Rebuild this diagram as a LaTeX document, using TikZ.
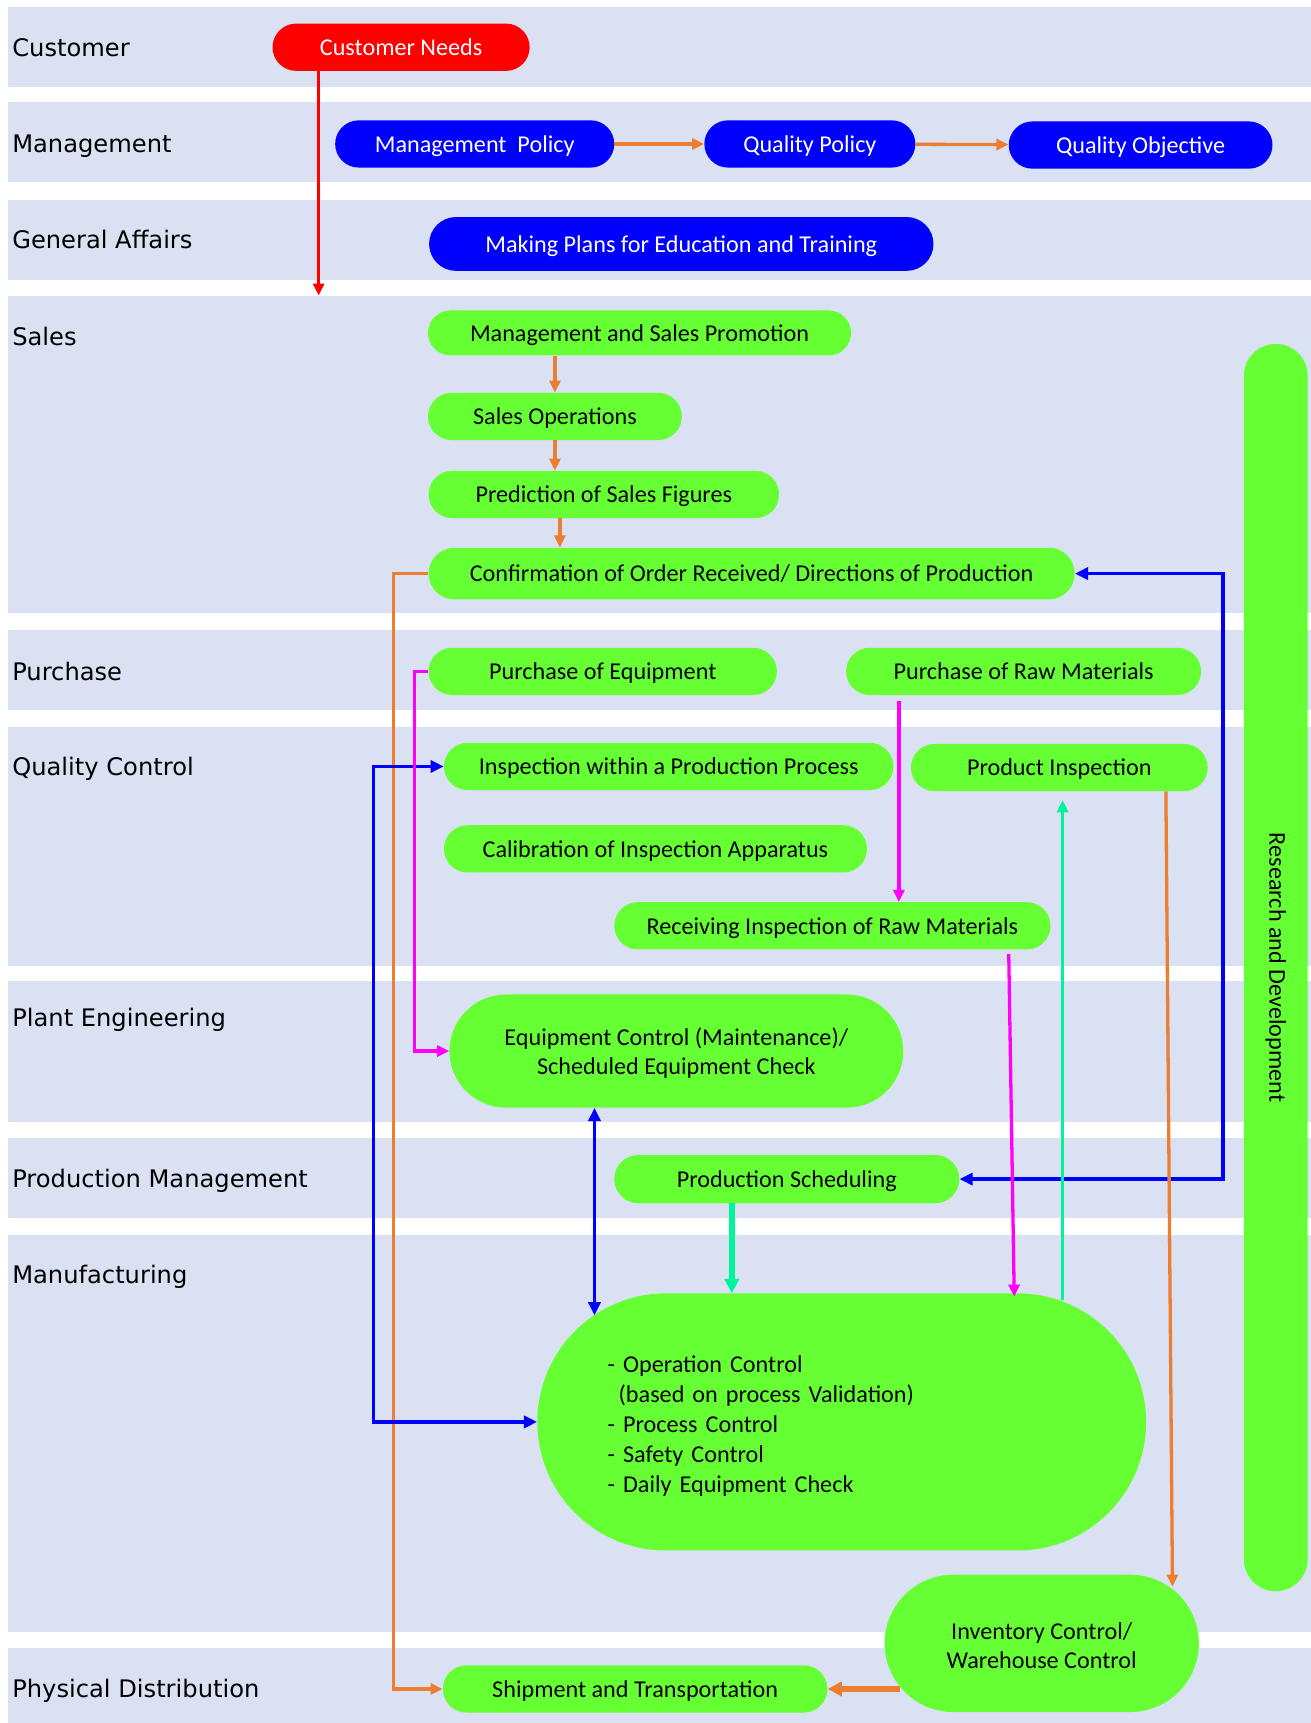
\documentclass[tikz,border=0pt]{standalone}
\usepackage{fontspec}
\setmainfont{Carlito}
\newfontfamily\lanefont{DejaVu Sans}
\usetikzlibrary{arrows.meta,calc}
\definecolor{lanebg}{HTML}{DAE1F2}
\definecolor{boxgreen}{HTML}{66FF33}
\definecolor{flowblue}{HTML}{0000FF}
\definecolor{flowred}{HTML}{FF0000}
\definecolor{floworange}{HTML}{ED7D31}
\definecolor{flowpink}{HTML}{FF00FF}
\definecolor{flowmint}{HTML}{00F59B}
\tikzset{
	lanename/.style={anchor=west, inner sep=0pt, text height=16pt, text depth=0pt, font=\lanefont\fontsize{22}{26}\selectfont},
	box/.style={rectangle, inner sep=0pt, fill=boxgreen, text=black, font=\fontsize{22}{26}\selectfont},
	pill/.style={box, rounded corners=21.5pt, minimum height=43pt, text height=15pt, text depth=0pt},
	bigpill/.style={box, align=center, text depth=0pt},
	redpill/.style={pill, fill=flowred, text=white},
	bluepill/.style={pill, fill=flowblue, text=white},
	flow/.style={line width=3pt, -{Triangle[length=11pt,width=10pt]}},
	twoway/.style={line width=3pt, {Triangle[length=12pt,width=11pt]}-{Triangle[length=12pt,width=11pt]}}
}
\begin{document}
\begin{tikzpicture}[x=1pt, y=-1pt]
	\useasboundingbox (0,0) rectangle (1193,1568);
	% Lanes
	\foreach \top/\bot in {6/79, 93/166, 182/255, 269/558, 573/646, 662/879, 893/1021, 1036/1108, 1124/1485, 1500/1568}
		\fill[lanebg] (7,\top) rectangle (1193,\bot);
	\node[lanename] (lcust) at (11,43) {Customer};
	\node[lanename] (lmgmt) at (11,131) {Management};
	\node[lanename] (lgen) at (11,218) {General Affairs};
	\node[lanename] (lsales) at (11,306) {Sales};
	\node[lanename] (lpur) at (11,611) {Purchase};
	\node[lanename] (lqc) at (11,698) {Quality Control};
	\node[lanename] (lplant) at (11,926) {Plant Engineering};
	\node[lanename] (lprod) at (11,1073) {Production Management};
	\node[lanename] (lmanu) at (11,1160) {Manufacturing};
	\node[lanename] (ldist) at (11,1537) {Physical Distribution};
	% Boxes
	\node[redpill, minimum width=234pt] (need) at (365,43) {Customer Needs};
	\node[bluepill, minimum width=254pt] (mpol) at (432,131) {Management\ \ Policy};
	\node[bluepill, minimum width=192pt] (qpol) at (737,131) {Quality Policy};
	\node[bluepill, minimum width=240pt] (qobj) at (1038,132) {Quality Objective};
	\node[bluepill, minimum width=459pt, minimum height=49pt, rounded corners=24.5pt] (edu) at (620,222) {Making Plans for Education and Training};
	\node[pill, minimum width=385pt, minimum height=41pt, rounded corners=20.5pt] (msp) at (582,303) {Management and Sales Promotion};
	\node[pill, minimum width=231pt] (sop) at (505,379) {Sales Operations};
	\node[pill, minimum width=319pt] (pred) at (549.5,450) {Prediction of Sales Figures};
	\node[pill, minimum width=588pt, minimum height=47pt, rounded corners=23.5pt] (conf) at (684,522) {Confirmation of Order Received/ Directions of Production};
	\node[pill, minimum width=317pt] (peq) at (548.5,611) {Purchase of Equipment};
	\node[pill, minimum width=323pt] (praw) at (931.5,611) {Purchase of Raw Materials};
	\node[pill, minimum width=409pt] (ipp) at (608.5,697.5) {Inspection within a Production Process};
	\node[pill, minimum width=270pt] (pins) at (964,698.5) {Product Inspection};
	\node[pill, minimum width=385pt] (cal) at (596.5,772.5) {Calibration of Inspection Apparatus};
	\node[pill, minimum width=397pt] (rirm) at (757.5,842.5) {Receiving Inspection of Raw Materials};
	\node[bigpill, minimum width=413pt, minimum height=103pt, rounded corners=51.5pt] (eqc) at (615.5,956.5) {Equipment Control (Maintenance)/\\Scheduled Equipment Check};
	\node[pill, minimum width=314pt, minimum height=44pt, rounded corners=22pt] (sched) at (716,1073) {Production Scheduling};
	\node[box, minimum width=554pt, minimum height=234pt, rounded corners=117pt, text width=426pt, text height=23pt, align=left, font=\fontsize{22}{27.3}\selectfont] (ops) at (766,1294)
		{- Operation Control\\\hspace*{10pt}(based on process Validation)\\- Process Control\\- Safety Control\\- Daily Equipment Check};
	\node[bigpill, minimum width=286pt, minimum height=125pt, rounded corners=62.5pt, yshift=0pt] (inv) at (948,1495.5) {\rule{0pt}{19pt}Inventory Control/\\Warehouse Control};
	\node[pill, minimum width=350pt] (ship) at (578,1537) {Shipment and Transportation};
	\node[box, minimum width=58pt, minimum height=1135pt, rounded corners=29pt] (rnd) at (1161,880.5) {};
	\node[rotate=-90, font=\fontsize{22}{26}\selectfont] (rndtext) at (rnd.center) {Research and Development};
	% Free ends
	\coordinate (salestop) at (290,269);
	\coordinate (oleft) at (358,1537);
	\coordinate (bright) at (1113,522);
	\coordinate (bleft) at (340,697.5);
	\coordinate (bmid) at (541,1197);
	\coordinate (pleft) at (377,611);
	\coordinate (pdown) at (923,1180);
	\coordinate (gup) at (967,1183);
	\coordinate (oinv) at (1067,1444);
	\coordinate (oship) at (819,1537);
	% Connectors
	\draw[flow, flowred] (need.south -| salestop) -- (salestop);
	\draw[flow, floworange] (mpol) -- (qpol);
	\draw[flow, floworange] (qpol) -- (qobj);
	\draw[flow, floworange] (sop.north |- msp.south) -- (sop.north);
	\draw[flow, floworange] (sop.south) -- (sop.south |- pred.north);
	\draw[flow, floworange] ([xshift=-40pt]pred.south) -- ([xshift=-40pt]pred.south |- conf.north);
	\draw[flow, floworange] (conf.west) -| (oleft) -- (ship.west);
	\draw[twoway, flowblue] (conf.east) -- (bright) |- (sched.east);
	\draw[twoway, flowblue] (ipp.west) -- (bleft) |- (ops.west);
	\draw[twoway, flowblue] (bmid |- eqc.south) -- (bmid);
	\draw[flow, flowpink] (peq.west) -- (pleft) |- (eqc.west);
	\draw[flow, flowpink] ([xshift=-113.5pt,yshift=-5pt]praw.south) -- ([xshift=-113.5pt]praw.south |- rirm.north);
	\draw[flow, flowpink] ([xshift=160.5pt,yshift=-4pt]rirm.south) -- (pdown);
	\draw[flowmint, line width=5pt, -{Triangle[length=13pt,width=13pt]}] ([xshift=-50pt]sched.south) -- ([xshift=-50pt]sched.south |- ops.north);
	\draw[flow, flowmint, shorten >=8pt] (gup) -- (gup |- pins.south);
	\draw[flow, floworange] ([xshift=97pt]pins.south) -- (oinv);
	\draw[floworange, line width=5pt, -{Triangle[length=13pt,width=13pt]}] (oship) -- (ship.east);
\end{tikzpicture}
\end{document}
